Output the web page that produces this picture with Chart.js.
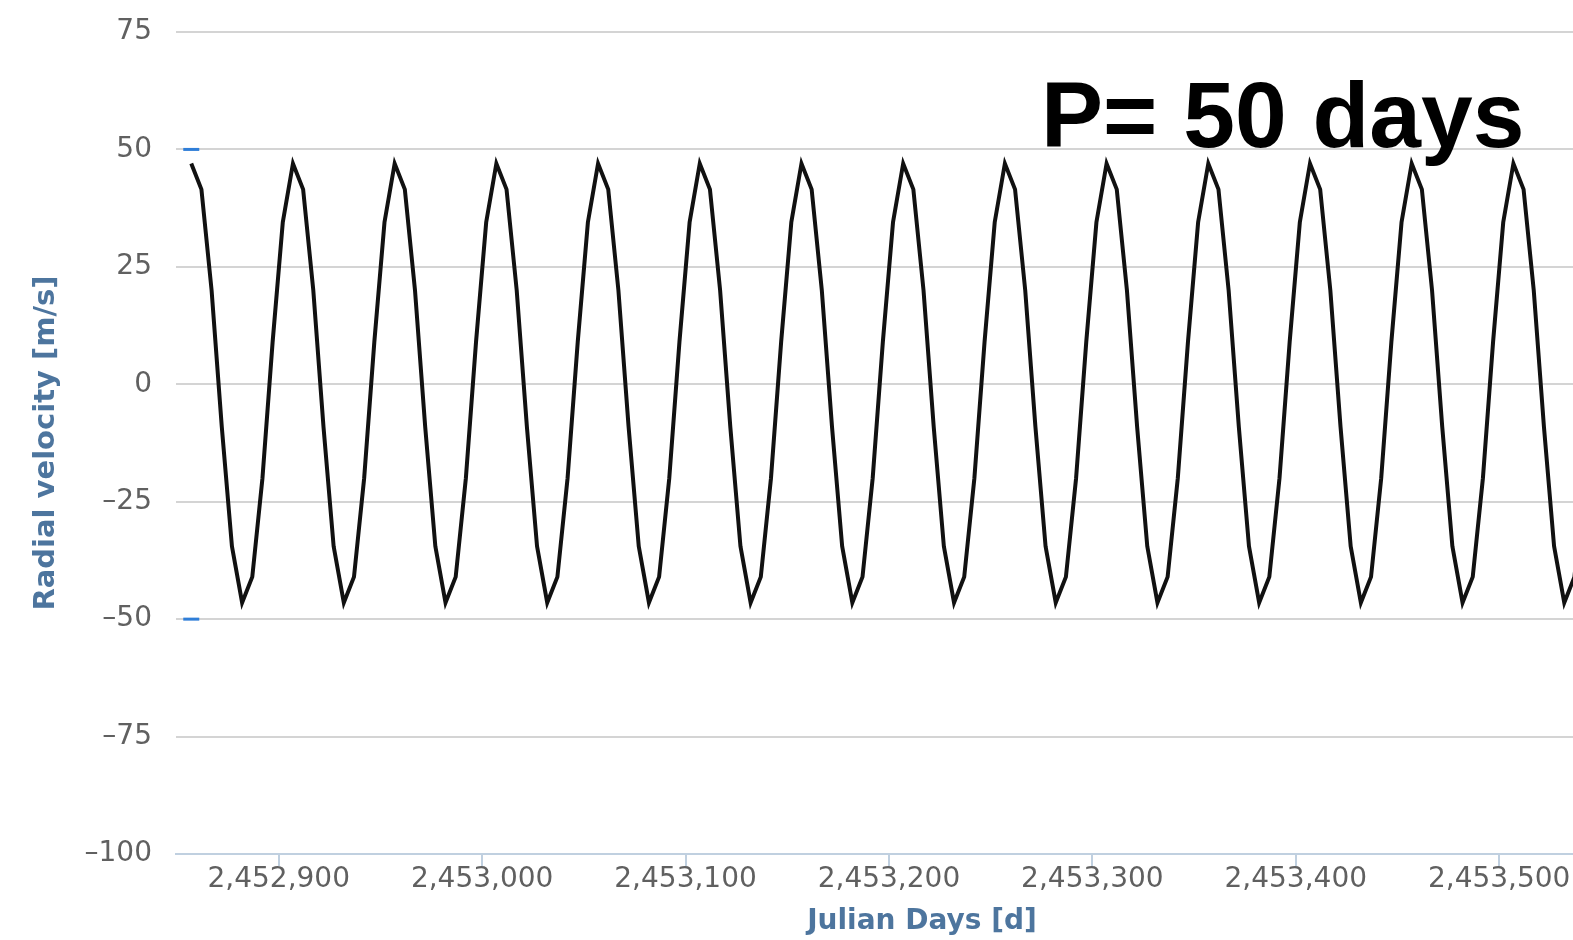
<!DOCTYPE html>
<html>
<head>
<meta charset="utf-8">
<title>Radial velocity, P = 50 days</title>
<script src="https://cdn.jsdelivr.net/npm/chart.js@4.4.1/dist/chart.umd.min.js"></script>
<style>
  html, body { margin: 0; padding: 0; background: #fff; overflow: hidden; }
  #wrap { width: 1680px; height: 940px; }
</style>
</head>
<body>
<div id="wrap"><canvas id="rvChart" width="1680" height="940"></canvas></div>
<script>
// Julian day of each sample (one sample every 5 days)
const julianDays = [
  2452857, 2452862, 2452867, 2452872, 2452877, 2452882, 2452887, 2452892, 2452897, 2452902,
  2452907, 2452912, 2452917, 2452922, 2452927, 2452932, 2452937, 2452942, 2452947, 2452952,
  2452957, 2452962, 2452967, 2452972, 2452977, 2452982, 2452987, 2452992, 2452997, 2453002,
  2453007, 2453012, 2453017, 2453022, 2453027, 2453032, 2453037, 2453042, 2453047, 2453052,
  2453057, 2453062, 2453067, 2453072, 2453077, 2453082, 2453087, 2453092, 2453097, 2453102,
  2453107, 2453112, 2453117, 2453122, 2453127, 2453132, 2453137, 2453142, 2453147, 2453152,
  2453157, 2453162, 2453167, 2453172, 2453177, 2453182, 2453187, 2453192, 2453197, 2453202,
  2453207, 2453212, 2453217, 2453222, 2453227, 2453232, 2453237, 2453242, 2453247, 2453252,
  2453257, 2453262, 2453267, 2453272, 2453277, 2453282, 2453287, 2453292, 2453297, 2453302,
  2453307, 2453312, 2453317, 2453322, 2453327, 2453332, 2453337, 2453342, 2453347, 2453352,
  2453357, 2453362, 2453367, 2453372, 2453377, 2453382, 2453387, 2453392, 2453397, 2453402,
  2453407, 2453412, 2453417, 2453422, 2453427, 2453432, 2453437, 2453442, 2453447, 2453452,
  2453457, 2453462, 2453467, 2453472, 2453477, 2453482, 2453487, 2453492, 2453497, 2453502,
  2453507, 2453512, 2453517, 2453522, 2453527, 2453532, 2453537, 2453542, 2453547, 2453552,
  2453557, 2453562, 2453567, 2453572, 2453577, 2453582, 2453587
];

// radial velocity [m/s] at each sample
const radialVelocity = [
  47, 41.5, 20, -9, -34.5, -46.5, -41, -20, 9, 34.5,
  47, 41.5, 20, -9, -34.5, -46.5, -41, -20, 9, 34.5,
  47, 41.5, 20, -9, -34.5, -46.5, -41, -20, 9, 34.5,
  47, 41.5, 20, -9, -34.5, -46.5, -41, -20, 9, 34.5,
  47, 41.5, 20, -9, -34.5, -46.5, -41, -20, 9, 34.5,
  47, 41.5, 20, -9, -34.5, -46.5, -41, -20, 9, 34.5,
  47, 41.5, 20, -9, -34.5, -46.5, -41, -20, 9, 34.5,
  47, 41.5, 20, -9, -34.5, -46.5, -41, -20, 9, 34.5,
  47, 41.5, 20, -9, -34.5, -46.5, -41, -20, 9, 34.5,
  47, 41.5, 20, -9, -34.5, -46.5, -41, -20, 9, 34.5,
  47, 41.5, 20, -9, -34.5, -46.5, -41, -20, 9, 34.5,
  47, 41.5, 20, -9, -34.5, -46.5, -41, -20, 9, 34.5,
  47, 41.5, 20, -9, -34.5, -46.5, -41, -20, 9, 34.5,
  47, 41.5, 20, -9, -34.5, -46.5, -41, -20, 9, 34.5,
  47, 41.5, 20, -9, -34.5, -46.5, -41
];

// the two small blue marks at the left end
const markerDays = [2452857, 2452857];
const markerValues = [50, -50];

const xTicks = [2452900, 2453000, 2453100, 2453200, 2453300, 2453400, 2453500];
const yTicks = [-100, -75, -50, -25, 0, 25, 50, 75];

const X_MIN = 2452849.5;
const X_MAX = 2453583;
const periodText = 'P= 50 days';

const axisBlue = '#4d759e';
const tickGrey = '#606060';

// big label in the upper right
const periodLabel = {
  id: 'periodLabel',
  afterDraw(chart) {
    const c = chart.ctx;
    c.save();
    c.font = 'bold 93px "Liberation Sans", Arial, sans-serif';
    c.fillStyle = '#000';
    c.textBaseline = 'alphabetic';
    c.textAlign = 'left';
    c.fillText(periodText, 1041, 147);
    c.restore();
  }
};

const ctxt = document.getElementById('rvChart').getContext('2d');

const rvChart = new Chart(ctxt, {
  type: 'line',
  data: {
    datasets: [
      {
        label: 'Radial velocity',
        data: julianDays.map((d, i) => ({ x: d, y: radialVelocity[i] })),
        borderColor: '#111',
        borderWidth: 4,
        pointRadius: 0,
        tension: 0,
        fill: false,
        order: 1
      },
      {
        label: 'marks',
        type: 'scatter',
        data: markerDays.map((d, i) => ({ x: d, y: markerValues[i] })),
        pointStyle: 'line',
        pointRadius: 8,
        borderColor: '#2f7ed8',
        backgroundColor: '#2f7ed8',
        borderWidth: 3,
        order: 2
      }
    ]
  },
  options: {
    responsive: false,
    animation: false,
    layout: { padding: { top: 32, right: 12, bottom: 0, left: 0 } },
    plugins: {
      legend: { display: false },
      tooltip: { enabled: false }
    },
    scales: {
      x: {
        type: 'linear',
        min: X_MIN,
        max: X_MAX,
        afterBuildTicks: (axis) => { axis.ticks = xTicks.map(v => ({ value: v })); },
        afterFit: (axis) => { axis.height = 86; },
        grid: {
          drawOnChartArea: false,
          drawTicks: true,
          tickLength: 12,
          color: '#c0d0e0',
          lineWidth: 2
        },
        border: { color: '#c0d0e0', width: 2 },
        ticks: {
          color: tickGrey,
          padding: -3,
          maxRotation: 0,
          autoSkip: false,
          font: { family: '"DejaVu Sans", sans-serif', size: 28 },
          callback: (v) => Number(v).toLocaleString('en-US')
        },
        title: {
          display: true,
          text: 'Julian Days [d]',
          color: axisBlue,
          font: { family: '"DejaVu Sans", sans-serif', size: 28, weight: 'bold' },
          padding: { top: 0, bottom: 1 }
        }
      },
      y: {
        min: -100,
        max: 75,
        afterBuildTicks: (axis) => { axis.ticks = yTicks.map(v => ({ value: v })); },
        afterFit: (axis) => { axis.width = 176; },
        grid: {
          drawTicks: true,
          tickLength: 24,
          tickColor: 'rgba(0,0,0,0)',
          color: '#d4d4d4',
          lineWidth: 2
        },
        border: { display: false },
        ticks: {
          color: tickGrey,
          padding: 0,
          font: { family: '"DejaVu Sans", sans-serif', size: 28 },
          callback: (v) => v < 0 ? '\u2013' + Math.abs(v) : String(v)
        },
        title: {
          display: true,
          text: 'Radial velocity [m/s]',
          color: axisBlue,
          font: { family: '"DejaVu Sans", sans-serif', size: 29, weight: 'bold' },
          padding: { top: 29, bottom: 0 }
        }
      }
    }
  },
  plugins: [periodLabel]
});
</script>
</body>
</html>
